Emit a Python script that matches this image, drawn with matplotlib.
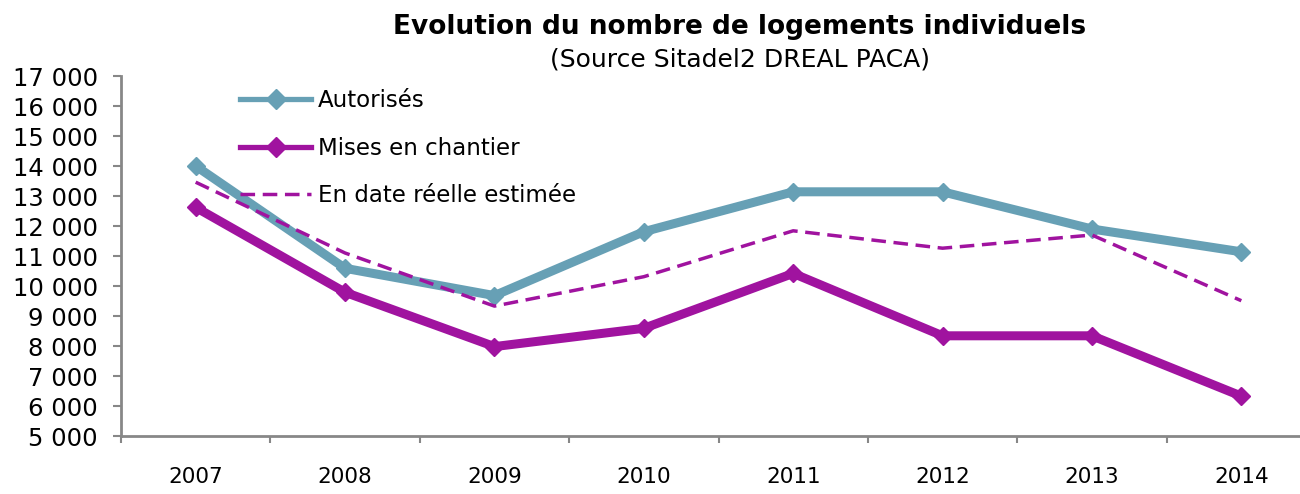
import matplotlib.pyplot as plt
import matplotlib.ticker as mticker
import numpy as np

# data
years = ["2007", "2008", "2009", "2010", "2011", "2012", "2013", "2014"]
autorises = [14000, 10590, 9680, 11810, 13140, 13140, 11900, 11140]
mises_en_chantier = [12620, 9790, 7980, 8590, 10420, 8340, 8340, 6330]
date_reelle = [13460, 11100, 9330, 10310, 11840, 11260, 11700, 9510]

BLUE = "#67A0B5"
PURPLE = "#A0139F"
GREY = "#878787"

plt.rcParams['font.family'] = ['DejaVu Sans']

fig = plt.figure(figsize=(13, 4.94), dpi=100)
ax = fig.add_axes([121 / 1300, 1 - 436 / 494, (1316 - 121) / 1300, 360 / 494])

x = np.arange(len(years))
ax.plot(x, autorises, color=BLUE, linewidth=6.5, marker="D", markersize=9,
        label="Autorisés", solid_joinstyle="miter")
ax.plot(x, mises_en_chantier, color=PURPLE, linewidth=6.5, marker="D", markersize=9,
        label="Mises en chantier", solid_joinstyle="miter")
ax.plot(x, date_reelle, color=PURPLE, linewidth=2.5, dashes=(4.2, 2.2),
        label="En date réelle estimée")

ax.set_xlim(-0.5, 7.5)
ax.set_ylim(5000, 17000)
ax.yaxis.set_major_locator(mticker.MultipleLocator(1000))
ax.yaxis.set_major_formatter(mticker.FuncFormatter(lambda v, p: f"{int(v):,}".replace(",", " ")))

# category boundaries as major ticks, labels on minor ticks at the centers
ax.set_xticks(np.arange(-0.5, 7.5, 1.0))
ax.set_xticklabels([])
ax.set_xticks(x, minor=True)
ax.set_xticklabels(years, minor=True, fontsize=15.5)
ax.tick_params(axis="x", which="major", direction="out", length=5, width=1.5, color=GREY)
ax.tick_params(axis="x", which="minor", length=0, pad=22)
ax.tick_params(axis="y", direction="out", length=5.8, width=1.5, color=GREY, labelsize=17.5, pad=11)

for side in ["top", "right"]:
    ax.spines[side].set_visible(False)
for side in ["left", "bottom"]:
    ax.spines[side].set_color(GREY)
    ax.spines[side].set_linewidth(2)

leg = ax.legend(loc="upper left", bbox_to_anchor=(240 / 1300, 1 - 89 / 494),
                bbox_transform=fig.transFigure, frameon=False, fontsize=16.5,
                handlelength=3.1, handletextpad=0.3, labelspacing=1.07,
                borderpad=0, borderaxespad=0)
# legend lines are thinner than the plotted ones
for h in leg.get_lines()[:2]:
    h.set_linewidth(3.8)
    h.set_markersize(10)

fig.text(740 / 1300, 1 - 27 / 494, "Evolution du nombre de logements individuels",
         ha="center", va="center", fontsize=19, fontweight="bold")
fig.text(740 / 1300, 1 - 60 / 494, "(Source Sitadel2 DREAL PACA)",
         ha="center", va="center", fontsize=18)

fig.savefig("out.png", dpi=100)
